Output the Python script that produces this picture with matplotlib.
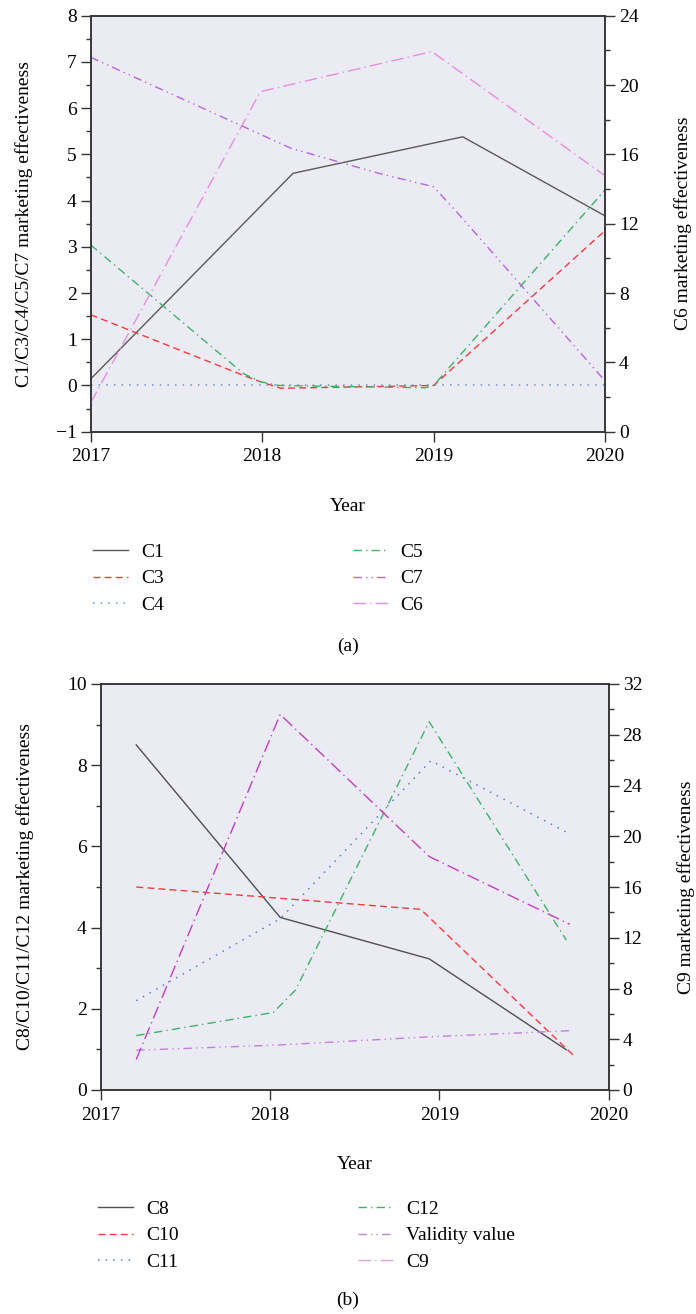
"""
Marketing effectiveness by year, two panels with twin y axes
"""

import matplotlib
matplotlib.use('Agg')
import matplotlib.pyplot as plt
from matplotlib.lines import Line2D
from matplotlib.ticker import MultipleLocator

# ---- panel (a) data ----
years_c1 = [2017, 2018.18, 2019.17, 2020]
c1 = [0.14, 4.59, 5.38, 3.67]
years_c3 = [2017, 2017.91, 2017.99, 2018.11, 2019.0, 2020]
c3 = [1.53, 0.19, 0.08, -0.06, 0.0, 3.35]
years_c4 = [2017, 2018, 2019, 2020]
c4 = [0.0, 0.0, 0.0, 0.0]
years_c5 = [2017, 2017.89, 2017.99, 2018.1, 2018.95, 2019.0, 2020]
c5 = [3.04, 0.26, 0.08, 0.0, -0.05, 0.0, 4.23]
years_c7 = [2017, 2018.17, 2018.69, 2019.0, 2019.16, 2020]
c7 = [7.1, 5.13, 4.58, 4.3, 3.65, 0.1]
years_c6 = [2017, 2017.99, 2018.99, 2020]
c6 = [1.67, 19.62, 21.93, 14.77]

# ---- panel (b) data ----
years_c8 = [2017.21, 2018.06, 2018.94, 2019.75]
c8 = [8.5, 4.25, 3.23, 0.99]
years_c10 = [2017.21, 2018.89, 2019.79]
c10 = [5.0, 4.45, 0.86]
years_c11 = [2017.21, 2018.06, 2018.95, 2019.75]
c11 = [2.2, 4.22, 8.11, 6.35]
years_c12 = [2017.21, 2018.02, 2018.15, 2018.94, 2019.75]
c12 = [1.34, 1.91, 2.46, 9.07, 3.69]
years_valid = [2017.21, 2018.06, 2018.94, 2019.77]
validity = [0.98, 1.11, 1.31, 1.46]
years_c9 = [2017.21, 2018.06, 2018.94, 2019.77]
c9 = [2.42, 29.6, 18.4, 13.06]

year_ticks = [2017, 2018, 2019, 2020]

plt.rcParams['font.family'] = ['Liberation Serif', 'DejaVu Serif']
plt.rcParams['font.size'] = 14
plt.rcParams['axes.unicode_minus'] = True

BG = '#ebebf3'
SPINE = '#333333'
FS = 14

# line styles
SOLID = '-'
DASH = (0, (5, 3))
DOT = (0, (1, 4))
DASHDOT = (0, (6, 3, 1, 3))
DASHDOTDOT = (0, (6, 3, 1, 3, 1, 3))
LONGDASHDOT = (0, (9, 3, 1, 3))

W, H = 696, 1314
fig = plt.figure(figsize=(W / 100, H / 100), dpi=100)


def px_rect(left, top, right, bottom):
    return [left / W, 1 - bottom / H, (right - left) / W, (bottom - top) / H]


def style_axes(ax, ax2):
    ax.set_facecolor(BG)
    ax2.patch.set_visible(False)
    for a in (ax, ax2):
        for s in a.spines.values():
            s.set_color(SPINE)
            s.set_linewidth(1.1)
        a.tick_params(which='major', direction='out', length=7, width=1.0,
                      color=SPINE, labelsize=FS, pad=3)
        a.tick_params(which='minor', direction='out', length=3.5, width=1.0,
                      color=SPINE)
    ax.tick_params(axis='x', which='minor', bottom=False)
    ax.tick_params(axis='x', which='major', pad=5)
    ax.set_xlim(2017, 2020)
    ax.set_xticks(year_ticks)
    ax.set_xticklabels([str(y) for y in year_ticks])


def legend_col(handles, labels, x, y):
    fig.legend(handles, labels, loc='upper left', bbox_to_anchor=(x, y),
               bbox_transform=fig.transFigure, frameon=False, fontsize=FS,
               handlelength=1.8, handletextpad=0.67, labelspacing=0.47,
               borderpad=0, borderaxespad=0)


# ================= panel (a) =================
ax = fig.add_axes(px_rect(90.7, 15.7, 605, 431.7))
ax2 = ax.twinx()
style_axes(ax, ax2)

l1, = ax.plot(years_c1, c1, color='#5a5a5a', ls=SOLID, lw=1.0, label='C1')
l3, = ax.plot(years_c3, c3, color='#f03c3c', ls=DASH, lw=1.0, label='C3')
l4, = ax.plot(years_c4, c4, color='#6a8fd8', ls=DOT, lw=1.1, label='C4')
l5, = ax.plot(years_c5, c5, color='#3cb464', ls=DASHDOT, lw=1.0, label='C5')
l7, = ax.plot(years_c7, c7, color='#b266e0', ls=DASHDOTDOT, lw=1.0, label='C7')
l6, = ax2.plot(years_c6, c6, color='#e48ee0', ls=LONGDASHDOT, lw=1.0, label='C6')

ax.set_ylim(-1, 8)
ax.yaxis.set_major_locator(MultipleLocator(1))
ax.yaxis.set_minor_locator(MultipleLocator(0.5))
ax2.set_ylim(0, 24)
ax2.yaxis.set_major_locator(MultipleLocator(4))
ax2.yaxis.set_minor_locator(MultipleLocator(2))

ax.set_xlabel('Year', fontsize=FS)
ax.xaxis.set_label_coords(0.5, -0.16)
ax.set_ylabel('C1/C3/C4/C5/C7 marketing effectiveness', fontsize=FS)
ax.yaxis.set_label_coords(-0.112, 0.5)
ax2.set_ylabel('C6 marketing effectiveness', fontsize=FS)
ax2.yaxis.set_label_coords(1.134, 0.5)

legend_col([l1, l3, l4], ['C1', 'C3', 'C4'], 93 / W, 1 - 543 / H)
legend_col([l5, l7, l6], ['C5', 'C7', 'C6'], 352.7 / W, 1 - 543 / H)
fig.text(348 / W, 1 - 646 / H, '(a)', ha='center', va='center', fontsize=FS)

# ================= panel (b) =================
bx = fig.add_axes(px_rect(100.7, 684, 608.7, 1090))
bx2 = bx.twinx()
style_axes(bx, bx2)

m8, = bx.plot(years_c8, c8, color='#505050', ls=SOLID, lw=1.0, label='C8')
m10, = bx.plot(years_c10, c10, color='#f03c3c', ls=DASH, lw=1.0, label='C10')
m11, = bx.plot(years_c11, c11, color='#5a80d8', ls=DOT, lw=1.1, label='C11')
m12, = bx.plot(years_c12, c12, color='#3cb464', ls=DASHDOT, lw=1.0, label='C12')
mv, = bx.plot(years_valid, validity, color='#c080e0', ls=DASHDOTDOT, lw=1.0,
              label='Validity value')
m9, = bx2.plot(years_c9, c9, color='#c040c0', ls=LONGDASHDOT, lw=1.0, label='C9')

bx.set_ylim(0, 10)
bx.yaxis.set_major_locator(MultipleLocator(2))
bx.yaxis.set_minor_locator(MultipleLocator(1))
bx2.set_ylim(0, 32)
bx2.yaxis.set_major_locator(MultipleLocator(4))
bx2.yaxis.set_minor_locator(MultipleLocator(2))

bx.set_xlabel('Year', fontsize=FS)
bx.xaxis.set_label_coords(0.5, -0.163)
bx.set_ylabel('C8/C10/C11/C12 marketing effectiveness', fontsize=FS)
bx.yaxis.set_label_coords(-0.131, 0.5)
bx2.set_ylabel('C9 marketing effectiveness', fontsize=FS)
bx2.yaxis.set_label_coords(1.134, 0.5)

# legend swatch for C9 is drawn paler than the plotted line in the source
c9_key = Line2D([], [], color='#e0a0e0', ls=LONGDASHDOT, lw=1.0)
legend_col([m8, m10, m11], ['C8', 'C10', 'C11'], 98 / W, 1 - 1200 / H)
legend_col([m12, mv, c9_key], ['C12', 'Validity value', 'C9'], 358 / W, 1 - 1200 / H)
fig.text(348 / W, 1 - 1300 / H, '(b)', ha='center', va='center', fontsize=FS)

plt.savefig('out.png', dpi=100)
